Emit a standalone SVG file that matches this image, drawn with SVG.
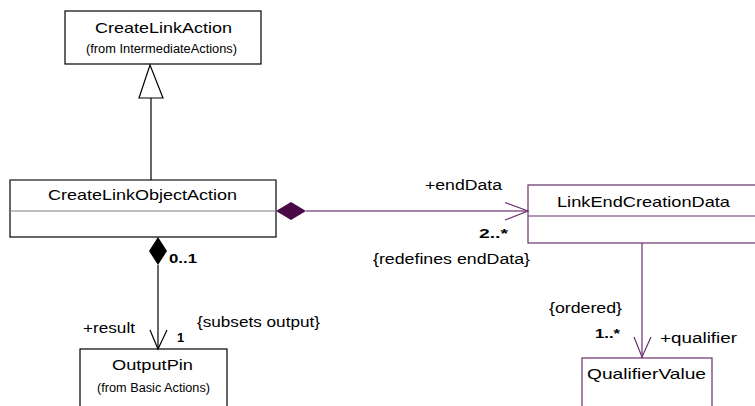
<svg xmlns="http://www.w3.org/2000/svg" width="755" height="406" viewBox="0 0 755 406">
<style>
text{font-family:"Liberation Sans",Arial,sans-serif;fill:#000}
.t{font-size:14.5px}
.s{font-size:12px}
.l{font-size:14px}
.m{font-size:13px;font-weight:bold}
.bk{fill:#fff;stroke:#000;stroke-width:1.2}
.pb{fill:#fff;stroke:#6b2f6b;stroke-width:1.2}
</style>
<rect width="755" height="406" fill="#fff"/>
<g id="CreateLinkAction">
<rect class="bk" x="65" y="11" width="196" height="53"/>
<text class="t" x="95" y="33" textLength="137" lengthAdjust="spacingAndGlyphs">CreateLinkAction</text>
<text class="s" x="86" y="53" textLength="151" lengthAdjust="spacingAndGlyphs">(from IntermediateActions)</text>
</g>
<g id="CreateLinkObjectAction">
<rect class="bk" x="10" y="180" width="266" height="57"/>
<line x1="10" y1="180" x2="276" y2="180" stroke="#808080" stroke-width="1.2"/>
<line x1="10" y1="211" x2="276" y2="211" stroke="#808080" stroke-width="1.2"/>
<text class="t" x="48" y="200" textLength="189" lengthAdjust="spacingAndGlyphs">CreateLinkObjectAction</text>
</g>
<g id="LinkEndCreationData">
<rect class="pb" x="528" y="185" width="240" height="58"/>
<line x1="528" y1="185" x2="768" y2="185" stroke="#a080a0" stroke-width="1.2"/>
<line x1="528" y1="216" x2="768" y2="216" stroke="#6b2f6b" stroke-width="1.2"/>
<text class="t" x="557" y="207" textLength="173" lengthAdjust="spacingAndGlyphs">LinkEndCreationData</text>
</g>
<g id="OutputPin">
<rect class="bk" x="80" y="349" width="147" height="70"/>
<text class="t" x="112" y="370" textLength="81" lengthAdjust="spacingAndGlyphs">OutputPin</text>
<text class="s" x="97" y="392" textLength="113" lengthAdjust="spacingAndGlyphs">(from Basic Actions)</text>
</g>
<g id="QualifierValue">
<rect class="pb" x="582" y="358" width="130" height="60"/>
<text class="t" x="587" y="379" textLength="119" lengthAdjust="spacingAndGlyphs">QualifierValue</text>
</g>
<g id="connectors">
<!-- generalization -->
<line x1="151" y1="98" x2="151" y2="180" stroke="#000" stroke-width="1.2"/>
<polygon points="150,65 139,98 163,98" fill="#fff" stroke="#000" stroke-width="1.2"/>
<!-- composition to OutputPin -->
<line x1="158" y1="265" x2="158" y2="349" stroke="#000" stroke-width="1.2"/>
<polygon points="158,237 167,251 158,265 149,251" fill="#000"/>
<polyline points="150,330 158,349 167,330" fill="none" stroke="#000" stroke-width="1.2"/>
<!-- composition to LinkEndCreationData -->
<line x1="306" y1="211" x2="528" y2="211" stroke="#8a5a8a" stroke-width="1.5"/>
<polygon points="276,211 291,202 306,211 291,220" fill="#4a0a46"/>
<polyline points="505,202.5 528,211 505,220" fill="none" stroke="#6b2f6b" stroke-width="1.2"/>
<!-- to QualifierValue -->
<line x1="642" y1="243" x2="642" y2="358" stroke="#6b2f6b" stroke-width="1.2"/>
<polyline points="634,337 642,357 651,337" fill="none" stroke="#6b2f6b" stroke-width="1.2"/>
</g>
<g id="labels">
<text class="l" x="425" y="190" textLength="77" lengthAdjust="spacingAndGlyphs">+endData</text>
<text class="m" x="479" y="238" textLength="29" lengthAdjust="spacingAndGlyphs">2..*</text>
<text class="l" x="373" y="264" textLength="157" lengthAdjust="spacingAndGlyphs">{redefines endData}</text>
<text class="m" x="169" y="263" textLength="28" lengthAdjust="spacingAndGlyphs">0..1</text>
<text class="l" x="83" y="333" textLength="52" lengthAdjust="spacingAndGlyphs">+result</text>
<text class="l" x="197" y="327" textLength="123" lengthAdjust="spacingAndGlyphs">{subsets output}</text>
<text class="m" x="177" y="342">1</text>
<text class="l" x="549" y="313" textLength="73" lengthAdjust="spacingAndGlyphs">{ordered}</text>
<text class="m" x="595" y="338" textLength="25" lengthAdjust="spacingAndGlyphs">1..*</text>
<text class="l" x="660" y="343" textLength="77" lengthAdjust="spacingAndGlyphs">+qualifier</text>
</g>
</svg>
